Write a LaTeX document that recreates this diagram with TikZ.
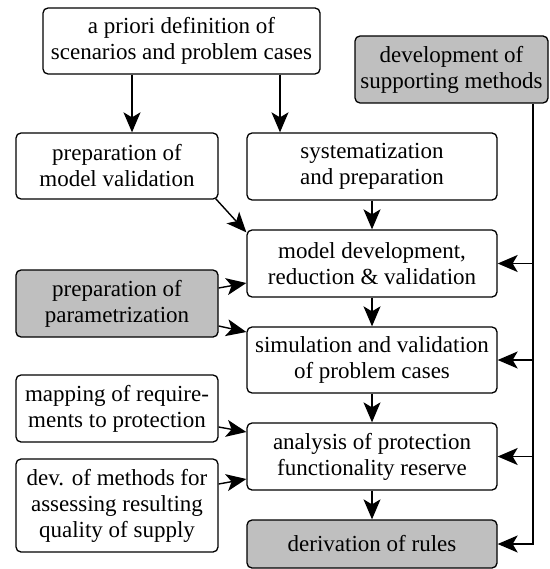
\documentclass[tikz,border=0pt]{standalone}
\usepackage{fontspec}
\setmainfont{Liberation Serif}
\newfontfamily\tnrfont{Liberation Serif}
\usetikzlibrary{arrows.meta,calc}
\begin{document}
\begin{tikzpicture}[x=1pt,y=-1pt,
  box/.style={draw,line width=1.3pt,rounded corners=5pt,align=center,inner sep=0pt,
    font=\tnrfont\fontsize{23}{26}\selectfont},
  gbox/.style={box,fill=gray!50},
  arr/.style={line width=1.4pt,-{Stealth[length=20pt,width=17pt,inset=5pt]}}]
\useasboundingbox (0,0) rectangle (549,569);
\node[box,minimum width=277pt,minimum height=66pt] (apriori) at (181.5,41) {a priori definition of\\scenarios and problem cases};
\node[gbox,minimum width=193pt,minimum height=67pt] (dev) at (451.5,69.5) {development of\\supporting methods};
\node[box,minimum width=202pt,minimum height=66pt] (pmv) at (117,166) {preparation of\\model validation};
\node[box,minimum width=250pt,minimum height=67pt] (sys) at (372,166.5) {systematization\\and preparation};
\node[box,minimum width=250pt,minimum height=67pt] (md) at (372,263.5) {model development,\\reduction \& validation};
\node[box,minimum width=250pt,minimum height=66pt] (sim) at (372,360) {simulation and validation\\of problem cases};
\node[box,minimum width=250pt,minimum height=67pt] (ana) at (372,456.5) {analysis of protection\\functionality reserve};
\node[gbox,minimum width=250pt,minimum height=48pt] (der) at (372,544) {derivation of rules};
\node[gbox,minimum width=202pt,minimum height=67pt] (par) at (117,303.5) {preparation of\\parametrization};
\node[box,minimum width=202pt,minimum height=67pt] (map) at (117,408.5) {mapping of require-\\ments to protection};
\node[box,minimum width=202pt,minimum height=93pt] (dm) at (117,505.5) {dev. of methods for\\assessing resulting\\quality of supply};
% top arrows
\coordinate (a1) at ($(apriori.south)+(-49.5,0)$);
\coordinate (a2) at ($(apriori.south)+(98.5,0)$);
\draw[arr] (a1) -- (a1 |- pmv.north);
\draw[arr] (a2) -- (a2 |- sys.north);
% center chain
\draw[arr] (sys.south) -- (md.north);
\draw[arr] (md.south) -- (sim.north);
\draw[arr] (sim.south) -- (ana.north);
\draw[arr] (ana.south) -- (der.north);
% left inputs
\draw[arr] ($(pmv.south east)+(-3,-1)$) -- ($(md.north west)+(0,3)$);
\draw[arr] ($(par.east)+(0,-15.5)$) -- ($(md.west)+(0,19.5)$);
\draw[arr] ($(par.east)+(0,22.5)$) -- ($(sim.west)+(0,-28)$);
\draw[arr] ($(map.east)+(0,18.5)$) -- ($(ana.west)+(0,-24.5)$);
\draw[arr] ($(dm.east)+(0,-21.5)$) -- ($(ana.west)+(0,22.5)$);
% right bus
\coordinate (bus) at ($(dev.south)+(81.5,0)$);
\draw[arr] (bus) |- (der.east);
\draw[arr] (bus |- md.east) -- (md.east);
\draw[arr] (bus |- sim.east) -- (sim.east);
\draw[arr] (bus |- ana.east) -- (ana.east);
\end{tikzpicture}
\end{document}
